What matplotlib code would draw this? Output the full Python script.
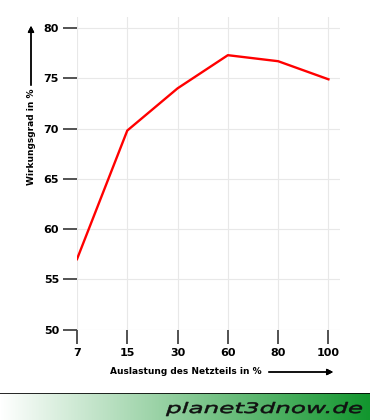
import numpy as np
import matplotlib.pyplot as plt
from matplotlib.colors import LinearSegmentedColormap
from matplotlib.textpath import TextPath
from matplotlib.patches import PathPatch
from matplotlib.font_manager import FontProperties
from matplotlib.transforms import Affine2D, IdentityTransform

load_labels = ["7", "15", "30", "60", "80", "100"]
efficiency = [57.0, 69.8, 74.0, 77.3, 76.7, 74.9]
y_ticks = [50, 55, 60, 65, 70, 75, 80]

W, H = 370, 420
fig = plt.figure(figsize=(W / 100, H / 100), dpi=100)
fig.patch.set_facecolor("white")

# plot area in pixels
left, right, top, bottom = 77, 340, 17, 329.5
ax = fig.add_axes([left / W, 1 - bottom / H, (right - left) / W, (bottom - top) / H])
x = np.arange(len(load_labels))
ax.plot(x, efficiency, color="#ff0000", lw=1.7)
ax.set_xlim(0, 5.23)
ax.set_ylim(50, 81.1)
ax.set_xticks(x)
ax.set_xticklabels(load_labels)
ax.set_yticks(y_ticks)
for s in ax.spines.values():
    s.set_visible(False)
ax.grid(True, color="#e8e8e8", lw=0.8)
ax.set_axisbelow(True)
ax.tick_params(axis="both", length=10, width=1.3, color="#444444", pad=3,
               labelsize=8, labelcolor="black")
for lab in ax.get_xticklabels() + ax.get_yticklabels():
    lab.set_fontweight("bold")

# axis labels with arrows
fig.text(110 / W, 1 - 371 / H, "Auslastung des Netzteils in %", fontsize=6.5,
         fontweight="bold", ha="left", va="center")
fig.add_artist(plt.annotate("", xy=(336 / W, 1 - 372 / H), xytext=(266 / W, 1 - 372 / H),
                            xycoords="figure fraction",
                            arrowprops=dict(arrowstyle="-|>", lw=1, color="black",
                                            mutation_scale=9)))
fig.text(31 / W, 1 - 137 / H, "Wirkungsgrad in %", fontsize=6.5, fontweight="bold",
         rotation=90, ha="center", va="center")
fig.add_artist(plt.annotate("", xy=(31 / W, 1 - 23 / H), xytext=(31 / W, 1 - 88 / H),
                            xycoords="figure fraction",
                            arrowprops=dict(arrowstyle="-|>", lw=1, color="black",
                                            mutation_scale=9)))

# footer band
band = fig.add_axes([0, 0, 1, 27 / H])
cmap = LinearSegmentedColormap.from_list("g", ["#ffffff", "#12962e"])
band.imshow(np.linspace(0, 1, 256)[None, :], aspect="auto", cmap=cmap,
            extent=[0, 1, 0, 1])
band.set_xlim(0, 1)
band.set_ylim(0, 1)
band.axis("off")
band.axhline(1, color="black", lw=1.2)

# stretched italic logo text, placed in pixels
prop = FontProperties(family="DejaVu Sans", style="oblique", weight="normal")
tp = TextPath((0, 0), "planet3dnow.de", size=10, prop=prop)
ext = tp.get_extents()
l_h = TextPath((0, 0), "l", size=10, prop=prop).get_extents().ymax
sx = 196 / ext.width
sy = 11 / l_h
tr = Affine2D().translate(-ext.xmin, 0).scale(sx, sy).translate(166, H - 413)
fig.add_artist(PathPatch(tp, transform=tr + IdentityTransform(), facecolor="#111111",
                         edgecolor="#111111", lw=0.4))

fig.savefig("out.png", dpi=100)
